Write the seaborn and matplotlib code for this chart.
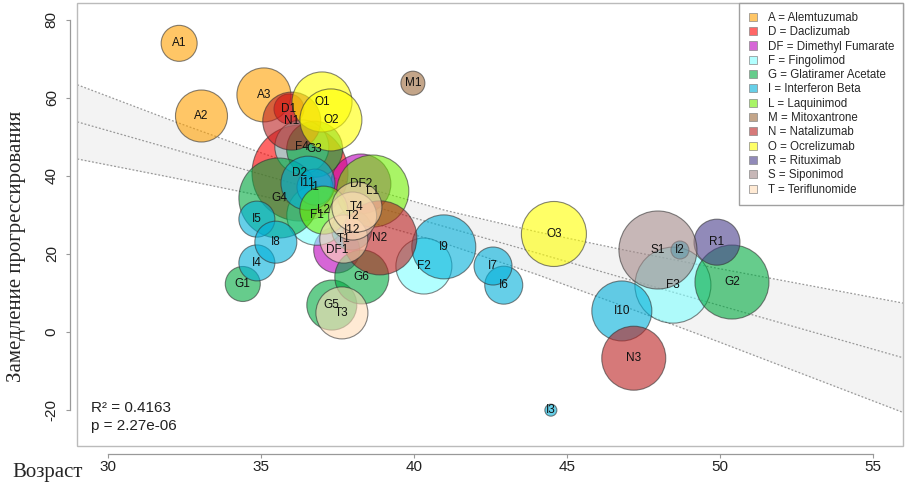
import matplotlib
matplotlib.use('Agg')
import matplotlib.pyplot as plt
from matplotlib import font_manager
from matplotlib.colors import to_rgba
from matplotlib.patches import Patch, Rectangle
import pandas as pd
import seaborn as sns

# Studies: label, mean age, slowing of progression, relative study size
labels = ['A1', 'A2', 'A3', 'D1', 'D2', 'DF1', 'DF2', 'F1', 'F2', 'F3', 'F4',
          'G1', 'G2', 'G3', 'G4', 'G5', 'G6',
          'I1', 'I2', 'I3', 'I4', 'I5', 'I6', 'I7', 'I8', 'I9', 'I10', 'I11', 'I12',
          'L1', 'L2', 'M1', 'N1', 'N2', 'N3', 'O1', 'O2', 'O3', 'R1', 'S1',
          'T1', 'T2', 'T3', 'T4']
age = [32.33, 33.06, 35.10, 35.92, 36.28, 37.48, 38.27, 36.83, 40.33, 48.47, 36.34,
       34.41, 50.40, 36.76, 35.59, 37.32, 38.30,
       36.77, 48.70, 44.48, 34.87, 34.87, 42.94, 42.59, 35.49, 40.98, 46.80, 36.54, 37.97,
       38.66, 37.06, 39.97, 36.01, 38.89, 47.19, 37.00, 37.29, 44.58, 49.91, 47.98,
       37.71, 38.00, 37.65, 38.14]
slowing = [73.9, 55.3, 60.7, 57.1, 40.7, 21.0, 37.9, 29.9, 16.9, 12.0, 47.4,
           12.3, 12.8, 46.8, 34.3, 6.9, 14.1,
           37.1, 21.0, -20.0, 17.7, 28.9, 12.0, 16.9, 23.0, 21.8, 5.4, 38.1, 26.1,
           36.1, 31.2, 63.7, 54.0, 24.1, -6.7, 58.9, 54.3, 25.1, 23.0, 21.0,
           23.8, 29.7, 4.9, 32.0]
study_size = [18, 26, 27, 15, 48, 23, 30, 30, 28, 38, 27,
              17.5, 37, 28, 40, 25, 27,
              18, 9, 6, 18, 18, 19, 19, 21, 32, 30, 27, 20,
              36, 24, 12, 29, 37, 32, 30, 31, 32.5, 23, 39,
              24, 24, 26, 25]

# Drug legend
drug_codes = ['A', 'D', 'DF', 'F', 'G', 'I', 'L', 'M', 'N', 'O', 'R', 'S', 'T']
drug_names = ['Alemtuzumab', 'Daclizumab', 'Dimethyl Fumarate', 'Fingolimod',
              'Glatiramer Acetate', 'Interferon Beta', 'Laquinimod', 'Mitoxantrone',
              'Natalizumab', 'Ocrelizumab', 'Rituximab', 'Siponimod', 'Teriflunomide']
drug_colors = ['#FFA000', '#FF0000', '#BB00BB', '#80FFFF', '#00AA40', '#00B0DA',
               '#70EE00', '#9B6A3A', '#BB2020', '#FFFF00', '#483D8B', '#A38888', '#FFDDB8']

# Meta-regression line and confidence band
fit_age = [29, 32, 35, 38, 41, 44, 47, 50, 53, 56]
fit_mid = [53.8, 47.1, 40.4, 33.7, 27.0, 20.3, 13.5, 6.8, 0.1, -6.6]
fit_hi = [63.3, 54.4, 45.9, 37.9, 31.2, 25.7, 20.8, 16.2, 11.8, 7.4]
fit_lo = [44.3, 39.7, 34.9, 29.4, 22.7, 14.8, 6.2, -2.6, -11.6, -20.6]

r2_text = 'R\u00b2 = 0.4163'
p_text = 'p = 2.27e-06'

sns.set_theme(style='white')
names = {f.name for f in font_manager.fontManager.ttflist}
narrow = 'Liberation Sans Narrow' if 'Liberation Sans Narrow' in names else 'Liberation Sans'
plt.rcParams['font.family'] = [narrow, 'DejaVu Sans']
plt.rcParams['axes.unicode_minus'] = False

df = pd.DataFrame({'label': labels, 'age': age, 'slowing': slowing, 'size': study_size})
df['drug'] = df['label'].str.rstrip('0123456789')
# marker area in pt^2 from the bubble radius (px at 100 dpi)
df['area'] = (2 * df['size'] * 0.72) ** 2
palette = dict(zip(drug_codes, drug_colors))

fig = plt.figure(figsize=(9.06, 4.93), dpi=100)
ax = fig.add_axes([0.0853, 0.0959, 0.9117, 0.8986])

ax.fill_between(fit_age, fit_lo, fit_hi, color='#F3F3F3', lw=0, zorder=0)
for line in (fit_hi, fit_mid, fit_lo):
    ax.plot(fit_age, line, color='#999999', lw=0.9, ls=(0, (1.5, 1.5)), zorder=1)

amin, amax = df['area'].min(), df['area'].max()
sns.scatterplot(data=df, x='age', y='slowing', hue='drug', palette=palette,
                size='area', sizes=(amin, amax), size_norm=(amin, amax),
                alpha=0.6, edgecolor='#333333', linewidth=0.8, legend=False,
                ax=ax, zorder=2)

for _, row in df.iterrows():
    ax.text(row['age'], row['slowing'], row['label'], ha='center', va='center',
            fontsize=8.5, color='#111111', family='Liberation Sans', zorder=3)

ax.set_xlim(29, 56)
ax.set_ylim(-29.1, 84.3)
ax.set_xticks([30, 35, 40, 45, 50, 55])
ax.set_yticks([-20, 0, 20, 40, 60, 80])
ax.set_xlabel('')
ax.set_ylabel('')

# R style: box around the plot, axes offset from it
ax.add_patch(Rectangle((0, 0), 1, 1, transform=ax.transAxes, fill=False,
                       ec='#BBBBBB', lw=1.0, clip_on=False, zorder=5))
for side in ['top', 'right']:
    ax.spines[side].set_visible(False)
ax.spines['left'].set_position(('outward', 5.3))
ax.spines['left'].set_bounds(-20, 80)
ax.spines['bottom'].set_position(('outward', 6))
ax.spines['bottom'].set_bounds(30, 55)
for side in ['left', 'bottom']:
    ax.spines[side].set_color('#999999')
    ax.spines[side].set_linewidth(0.9)

ax.tick_params(axis='both', direction='out', length=3, width=0.8, color='#999999',
               labelsize=11, labelcolor='#222222', left=True, bottom=True)
ax.tick_params(axis='x', pad=1)
ax.tick_params(axis='y', pad=5, labelrotation=90)
for t in ax.get_yticklabels():
    t.set_va('center')

ax.text(29.44, -20.4, r2_text, fontsize=11, color='#222222')
ax.text(29.44, -25.1, p_text, fontsize=11, color='#222222')

handles = [Patch(facecolor=to_rgba(c, 0.6), edgecolor='#888888', lw=0.5) for c in drug_colors]
leg_labels = [f'{c} = {n}' for c, n in zip(drug_codes, drug_names)]
leg = ax.legend(handles, leg_labels, loc='upper right', borderaxespad=0,
                prop={'family': 'Liberation Sans', 'size': 8.3}, frameon=True,
                fancybox=False, edgecolor='#A0A0A0', framealpha=1,
                handlelength=0.7, handleheight=0.7, handletextpad=0.95,
                labelspacing=0.2, borderpad=0.8)
leg.get_frame().set_linewidth(1.0)

fig.text(17 / 906, 1 - 246 / 493, 'Замедление прогрессирования', rotation=90,
         ha='center', va='center', fontsize=15, family='Liberation Serif')
fig.text(12 / 906, 1 - 472 / 493, 'Возраст', ha='left', va='center',
         fontsize=15, family='Liberation Serif')

plt.savefig('out.png', dpi=100)
plt.close()
